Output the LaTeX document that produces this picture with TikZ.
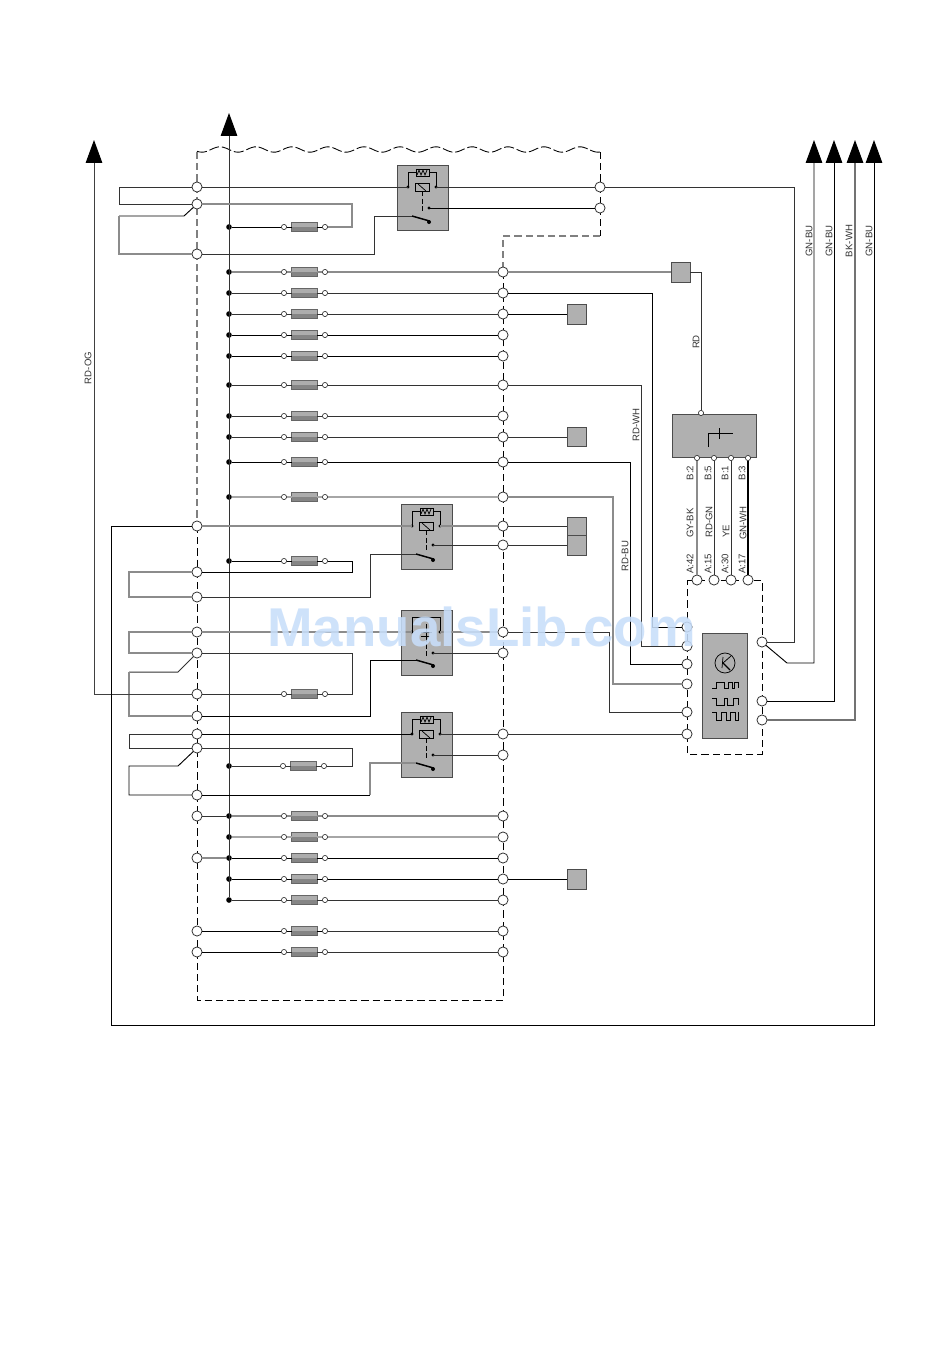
\documentclass[tikz,border=0pt]{standalone}
\usepackage{fontspec}
\setmainfont{Liberation Sans}
\usetikzlibrary{arrows.meta}
\definecolor{gbfill}{gray}{0.69}
\definecolor{gbedge}{gray}{0.30}
\definecolor{wmblue}{RGB}{200,222,250}
\tikzset{
  blk/.style={draw=black,line width=.7pt},
  dkg/.style={draw=black!80,line width=.75pt},
  gry/.style={draw=black!45,line width=.95pt},
  lgr/.style={draw=black!35,line width=.85pt},
  term/.style={circle,draw=black!80,fill=white,line width=.6pt,minimum size=7.6pt,inner sep=0pt,outer sep=0pt},
  pin/.style={circle,draw=black!80,fill=white,line width=.5pt,minimum size=3.9pt,inner sep=0pt,outer sep=0pt},
  jdot/.style={circle,fill=black,minimum size=4.2pt,inner sep=0pt,outer sep=0pt},
  gb/.style={draw=gbedge,fill=gbfill,line width=.7pt,inner sep=0pt,outer sep=0pt},
  fusebody/.style={draw=black!60,fill=black!32,line width=.6pt,minimum width=19pt,minimum height=6.6pt,inner sep=0pt,outer sep=0pt},
  dsh/.style={draw=black,line width=.7pt,dash pattern=on 5.4pt off 3pt},
  wavy/.style={draw=black,line width=.65pt,dash pattern=on 7.5pt off 2.2pt},
  dshg/.style={draw=black!50,line width=.9pt,dash pattern=on 5.4pt off 3pt},
  lab/.style={rotate=90,font=\fontsize{7.2pt}{8pt}\selectfont,text=black!80,inner sep=0pt},
  sym/.style={draw=black,line width=.55pt},
  tiparrow/.style={-{Triangle[length=17.2pt,width=12.4pt,color=black]}},
  wmark/.style={font=\fontsize{41pt}{44pt}\selectfont\bfseries,text=wmblue,text opacity=.88,inner sep=0pt}
}
\newcommand{\gbox}[5]{%
  \pgfmathsetmacro\gw{(#4-#2)*.75}\pgfmathsetmacro\gh{(#5-#3)*.75}%
  \node[gb,minimum width=\gw pt,minimum height=\gh pt] (#1) at ({(#2+#4)/2},{(#3+#5)/2}) {};}
% name, left pin x, y, wire style
\newcommand{\fuse}[4]{%
  \node[pin] (#1a) at (#2,#3) {};
  \node[pin] (#1b) at ({#2+41},#3) {};
  \node[fusebody] (#1f) at ({#2+20.5},#3) {};
  \fill[black!48] (#1f.west) rectangle (#1f.south east);
  \draw[#4] (#1a) -- (#1f.west);
  \draw[#4] (#1f.east) -- (#1b);}
% name, x, y, contact offset, switch offset, kind
\newcommand{\relay}[6]{%
  \gbox{#1box}{#2}{#3}{#2+51}{#3+65}
  \coordinate (#1l) at ({#2+11},{#3+22});
  \coordinate (#1r) at ({#2+39},{#3+22});
  \coordinate (#1con) at ({#2+32},{#3+#4});
  \coordinate (#1sw) at ({#2+15},{#3+#5});
  \node[jdot,minimum size=2.6pt] at (#1l) {};
  \node[jdot,minimum size=2.6pt] at (#1r) {};
  \node[jdot,minimum size=2.6pt] at (#1con) {};
  \draw[sym] (#1l) -- ({#2+11},{#3+7}) -- ({#2+19},{#3+7});
  \draw[sym] ({#2+32},{#3+7}) -- ({#2+39},{#3+7}) -- (#1r);
  \ifnum#6=1
    \draw[sym,fill=gbfill] ({#2+19},{#3+4}) rectangle ({#2+32},{#3+11});
    \draw[sym] ({#2+20},{#3+10}) -- ({#2+22},{#3+5}) -- ({#2+24},{#3+10}) -- ({#2+26},{#3+5}) -- ({#2+28},{#3+10}) -- ({#2+30},{#3+5});
    \draw[sym,fill=gbfill] ({#2+18},{#3+18.5}) rectangle ({#2+32},{#3+26});
    \draw[sym] ({#2+21},{#3+19}) -- ({#2+29},{#3+26});
  \else
    \draw[sym] ({#2+18},{#3+7}) -- ({#2+32},{#3+7});
    \draw[sym] ({#2+20},{#3+26}) -- ({#2+29},{#3+26});
    \draw[sym] ({#2+20},{#3+22}) -- ({#2+31},{#3+22});
    \draw[sym] ({#2+25},{#3+14}) -- ({#2+25},{#3+32});
  \fi
  \draw[sym,dash pattern=on 3.6pt off 2.2pt] ({#2+25},{#3+26}) -- ({#2+25},{#3+#5-3});
  \draw[black,line width=1.1pt] (#1sw) -- ({#2+32.5},{#3+#5+5});
  \node[jdot,minimum size=3pt] at ({#2+32},{#3+#5+6}) {};}
\begin{document}
\begin{tikzpicture}[x=.75pt,y=-.75pt]
\useasboundingbox (0,0) rectangle (950,1360);
\fill[white] (0,0) rectangle (950,1360);

% dashed outlines
\draw[wavy] plot[domain=197:600,samples=170] (\x,{149.5-2.7*cos(10*(\x-220))});
\draw[dshg] (197,152) -- (197,526);
\draw[dsh] (197,526) -- (197,1000) -- (503,1000) -- (503,272);
\draw[dsh] (600,152) -- (600,236);
\draw[dshg] (600,236) -- (503,236) -- (503,272);
\draw[dsh] (687,580) -- (762,580) -- (762,754) -- (687,754) -- cycle;

% grey boxes
\relay{RA}{397}{165}{43}{51}{1}
\relay{RB}{401}{504}{41}{50}{1}
\relay{RC}{401}{610}{43}{50}{2}
\relay{RD}{401}{712}{43}{51}{1}
\gbox{Bcon}{671}{262}{690}{282}
\gbox{Bs}{567}{304}{586}{324}
\gbox{Bt}{567}{427.5}{586}{446.5}
\gbox{Bu}{567}{517}{586}{535}
\gbox{Bv}{567}{535}{586}{555}
\gbox{Bw}{567}{869}{586}{889}
\gbox{Mod}{672}{414}{756}{457}
\gbox{Ecu}{702}{633}{747}{738}

% terminals
\foreach \y in {187,204,254,526,572,597,632,653,694,716,734,748,795,816,858,931,952}
  \node[term] (L\y) at (197,\y) {};
\foreach \y in {272,293,314,335,356,385,416,437,462,497,526,545,632,653,734,755,816,837,858,879,900,931,952}
  \node[term] (R\y) at (503,\y) {};
\node[term] (Ta) at (600,187) {};
\node[term] (Tb) at (600,208) {};
\foreach \y in {627,646,664,684,712,734}
  \node[term] (EL\y) at (687,\y) {};
\foreach \y in {642,701,720}
  \node[term] (ER\y) at (762,\y) {};
\node[term] (A42) at (697,580) {};
\node[term] (A15) at (714,580) {};
\node[term] (A30) at (731,580) {};
\node[term] (A17) at (748,580) {};
\node[pin] (Ptop) at (701,413) {};
\node[pin] (B2) at (697,458) {};
\node[pin] (B5) at (714,458) {};
\node[pin] (B1) at (731,458) {};
\node[pin] (B3) at (748,458) {};

% arrow ends
\coordinate (Amain) at (229,113);
\coordinate (Aog) at (94,140);
\coordinate (Aa) at (814,140);
\coordinate (Ab) at (834,140);
\coordinate (Ac) at (855,140);
\coordinate (Ad) at (874,140);

% junctions on the main rail
\foreach \y in {227,272,293,314,335,356,385,416,437,462,497,561,766,816,837,858,879,900}
  \node[jdot] (D\y) at (229,\y) {};
\draw[tiparrow,draw=black!80,line width=.75pt] (D900) -- (Amain);

% fuses and their rows
\foreach \y/\s in {227/blk,272/gry,293/dkg,314/dkg,335/blk,356/blk,385/dkg,416/dkg,437/dkg,462/blk,497/lgr,561/blk,694/dkg,816/gry,837/lgr,858/blk,879/blk,900/dkg,931/blk,952/dkg}
  {\fuse{F\y}{284}{\y}{\s}}
\fuse{F766}{283}{766}{dkg}
\foreach \y/\s in {272/gry,293/dkg,314/dkg,335/blk,356/blk,385/dkg,416/dkg,437/dkg,462/blk,497/lgr,816/gry,837/lgr,858/blk,879/blk,900/dkg}{
  \draw[\s] (D\y) -- (F\y a);
  \draw[\s] (F\y b) -- (R\y);}
\draw[blk] (D227) -- (F227a);
\draw[blk] (D561) -- (F561a);
\draw[dkg] (D766) -- (F766a);
\foreach \y in {931,952}{
  \draw[blk] (L\y) -- (F\y a);
  \draw[dkg] (F\y b) -- (R\y);}
\draw[dkg] (L816) -- (D816);
\draw[gry] (L858) -- (D858);

% relay A
\draw[dkg] (L187) -- (RAl);
\draw[dkg] (RAr) -- (Ta);
\draw[dkg] (L187) -- (119,187) -- (119,204) -- (L204);
\draw[gry] (L204) -- (352,204) -- (352,227) -- (F227b);
\draw[blk] (L204) -- (184,216) -- (119,216);
\draw[gry] (119,216) -- (119,254) -- (L254);
\draw[dkg] (L254) -- (374,254) -- (374,216) -- (RAsw);
\draw[blk] (RAcon) -- (Tb);
\draw[dkg] (Ta) -- (794,187) -- (794,642) -- (ER642);

% relay B
\draw[gry] (L526) -- (RBl);
\draw[gry] (RBr) -- (R526);
\draw[dkg] (R526) -- (Bu);
\draw[dkg] (RBcon) -- (R545);
\draw[dkg] (R545) -- (Bv);
\draw[blk] (F561b) -- (352,561) -- (352,572) -- (L572);
\draw[gry] (L572) -- (129,572) -- (129,597) -- (L597);
\draw[dkg] (L597) -- (370,597) -- (370,554) -- (RBsw);

% relay C
\draw[gry] (L632) -- (RCl);
\draw[gry] (RCr) -- (R632);
\draw[gry] (L632) -- (129,632) -- (129,653) -- (L653);
\draw[dkg] (L653) -- (352,653) -- (352,694) -- (F694b);
\draw[dkg] (L653) -- (178,672) -- (129,672);
\draw[gry] (129,672) -- (129,716) -- (L716);
\draw[blk] (L716) -- (370,716) -- (370,660) -- (RCsw);
\draw[dkg] (RCcon) -- (R653);
\draw[dkg] (F694a) -- (L694);
\draw[tiparrow,draw=black!75,line width=.7pt] (L694) -- (94,694) -- (Aog);

% relay D
\draw[blk] (L734) -- (RDl);
\draw[dkg] (RDr) -- (R734);
\draw[dkg] (L734) -- (129,734) -- (129,748) -- (L748);
\draw[dkg] (L748) -- (352,748) -- (352,766) -- (F766b);
\draw[blk] (L748) -- (178,766) -- (129,766) -- (129,795) -- (L795);
\draw[blk] (L795) -- (370,795);
\draw[gry] (370,795) -- (370,763) -- (RDsw);
\draw[dkg] (RDcon) -- (R755);

% stubs to grey boxes
\draw[blk] (R314) -- (Bs);
\draw[dkg] (R437) -- (Bt);
\draw[blk] (R879) -- (Bw);
\draw[gry] (R272) -- (Bcon);
\draw[dkg] (Bcon.east) -- (701,272) -- (Ptop);

% runs to the control unit
\draw[blk] (R293) -- (652,293) -- (652,627) -- (EL627);
\draw[dkg] (R385) -- (641,385) -- (641,646) -- (EL646);
\draw[blk] (R462) -- (630,462) -- (630,664) -- (EL664);
\draw[gry] (R497) -- (613,497) -- (613,684) -- (EL684);
\draw[dkg] (R632) -- (609,632) -- (609,712) -- (EL712);
\draw[dkg] (R734) -- (EL734);

% module links
\draw[gry] (B2) -- (A42);
\draw[dkg] (B5) -- (A15);
\draw[dkg] (B1) -- (A30);
\draw[blk,line width=.9pt] (B3) -- (A17);

% right side and long return
\draw[tiparrow,draw=black,line width=.7pt] (ER642) -- (787,663) -- (814,663) -- (Aa);
\draw[tiparrow,draw=black,line width=.7pt] (ER701) -- (834,701) -- (Ab);
\draw[tiparrow,draw=black!55,line width=.85pt] (ER720) -- (855,720) -- (Ac);
\draw[tiparrow,draw=black,line width=.7pt] (L526) -- (111,526) -- (111,1025) -- (874,1025) -- (Ad);

% module symbol
\draw[sym] (708,447) -- (708,433) -- (733,433);
\draw[sym] (719,428) -- (719,439);

% control unit symbols
\draw[sym] (725,663) circle[radius=10];
\draw[sym] (723,657) -- (722,668);
\draw[sym] (731,656) -- (723,663);
\draw[black,line width=1pt] (723,663) -- (730,670);
\draw[sym] (712,688) -- (716,688) -- (716,682) -- (724,682) -- (724,688) -- (728,688) -- (728,682) -- (732,682) -- (732,688) -- (734,688) -- (734,682) -- (738,682) -- (738,688);
\draw[sym] (712,698) -- (716,698) -- (716,705) -- (724,705) -- (724,698) -- (727,698) -- (727,705) -- (733,705) -- (733,698) -- (738,698) -- (738,705);
\draw[sym] (712,712) -- (716,712) -- (716,720) -- (721,720) -- (721,712) -- (726,712) -- (726,720) -- (730,720) -- (730,712) -- (735,712) -- (735,720) -- (738,720) -- (738,712);

% labels
\node[lab] (tOG) at (88,368) {RD-OG};
\node[lab] (tRD) at (696,342) {RD};
\node[lab] (tWH) at (636,425) {RD-WH};
\node[lab] (tBU) at (625,556) {RD-BU};
\node[lab] (tGa) at (809,241) {GN-BU};
\node[lab] (tGb) at (829,241) {GN-BU};
\node[lab] (tBK) at (849,241) {BK-WH};
\node[lab] (tGc) at (869,241) {GN-BU};
\node[lab] (tB2) at (690,473) {B:2};
\node[lab] (tB5) at (708,473) {B:5};
\node[lab] (tB1) at (725,473) {B:1};
\node[lab] (tB3) at (742,473) {B:3};
\node[lab] (tGY) at (690,523) {GY-BK};
\node[lab] (tGN) at (709,522) {RD-GN};
\node[lab] (tYE) at (726,531) {YE};
\node[lab] (tGW) at (743,523) {GN-WH};
\node[lab] (tA42) at (690,564) {A:42};
\node[lab] (tA15) at (708,564) {A:15};
\node[lab] (tA30) at (725,564) {A:30};
\node[lab] (tA17) at (742,564) {A:17};

% watermark
\node[wmark] (wm) at (481.5,627) {ManualsLib.com};
\end{tikzpicture}
\end{document}
